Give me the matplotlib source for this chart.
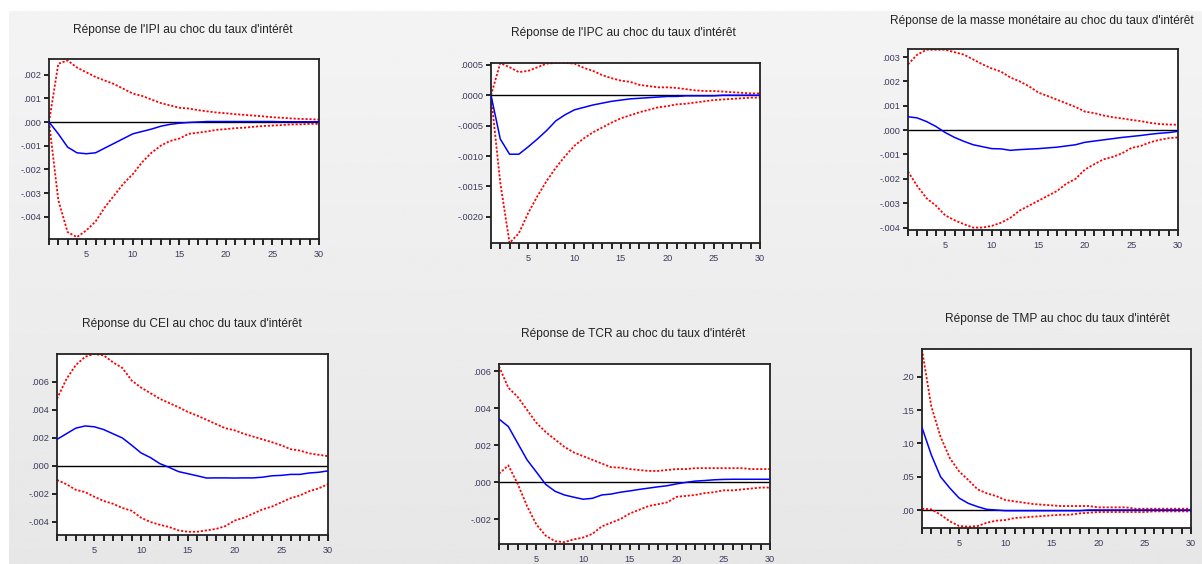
import numpy as np
import matplotlib
matplotlib.use('Agg')
import matplotlib.pyplot as plt
from matplotlib.ticker import FixedLocator, FixedFormatter, MultipleLocator

plt.rcParams['font.family'] = ['Liberation Sans', 'DejaVu Sans']

periods = list(range(1, 31))

# IPI
ipi_resp = [0, -0.0005, -0.00106, -0.0013, -0.00134, -0.0013, -0.0011, -0.0009, -0.0007, -0.0005,
            -0.0004, -0.0003, -0.00018, -0.0001, -0.00005, -0.00002, 0, 0.00002, 0.00002, 0.00002,
            0.00002, 0.00002, 0.00002, 0.00002, 0.00002, 0.00001, 0.00001, 0.00001, 0.00001, 0.00001]
ipi_up = [0, 0.00246, 0.0026, 0.0023, 0.0021, 0.0019, 0.00175, 0.0016, 0.0014, 0.0012,
          0.0011, 0.00095, 0.0008, 0.0007, 0.0006, 0.00057, 0.0005, 0.00045, 0.0004, 0.00037,
          0.00033, 0.0003, 0.00027, 0.00024, 0.0002, 0.00018, 0.00015, 0.00013, 0.00012, 0.0001]
ipi_low = [0, -0.0033, -0.00465, -0.00486, -0.00458, -0.0042, -0.0036, -0.0031, -0.0026, -0.0022,
           -0.0017, -0.0013, -0.001, -0.0008, -0.0007, -0.0005, -0.00045, -0.0004, -0.00033, -0.0003,
           -0.00026, -0.00024, -0.0002, -0.00017, -0.00015, -0.00013, -0.0001, -0.0001, -0.00008, -0.00008]

# IPC
ipc_resp = [0, -0.00072, -0.00097, -0.00097, -0.00085, -0.00072, -0.00058, -0.00042, -0.00032, -0.00024,
            -0.0002, -0.00016, -0.00013, -0.0001, -0.00008, -0.00006, -0.00005, -0.00004, -0.00003, -0.00002,
            -0.00002, -0.00001, -0.00001, -0.00001, -0.00001, 0, 0, 0, 0, 0]
ipc_up = [0, 0.00053, 0.00046, 0.00038, 0.0004, 0.00046, 0.00052, 0.00053, 0.00053, 0.00052,
          0.00045, 0.0004, 0.00033, 0.00028, 0.00024, 0.00022, 0.00017, 0.00015, 0.00013, 0.00013,
          0.00012, 0.0001, 0.00008, 0.00007, 0.00007, 0.00006, 0.00005, 0.00004, 0.00003, 0.00003]
ipc_low = [0, -0.00144, -0.00243, -0.00227, -0.00194, -0.00166, -0.00141, -0.00119, -0.001, -0.00083,
           -0.00071, -0.00061, -0.00053, -0.00045, -0.00038, -0.00033, -0.00028, -0.00024, -0.0002, -0.00018,
           -0.00015, -0.00014, -0.00012, -0.0001, -0.00008, -0.00007, -0.00006, -0.00005, -0.00004, -0.00004]

# masse monetaire
mm_resp = [0.00055, 0.0005, 0.00035, 0.00015, -0.0001, -0.0003, -0.00046, -0.0006, -0.00068, -0.00076,
           -0.00077, -0.00083, -0.0008, -0.00078, -0.00076, -0.00073, -0.0007, -0.00065, -0.0006, -0.0005,
           -0.00045, -0.0004, -0.00035, -0.0003, -0.00026, -0.00022, -0.00017, -0.00013, -0.0001, -0.00005]
mm_up = [0.0027, 0.0031, 0.0033, 0.0033, 0.0033, 0.0032, 0.0031, 0.0029, 0.0027, 0.00253,
         0.0024, 0.00216, 0.002, 0.0018, 0.00154, 0.0014, 0.00125, 0.0011, 0.00095, 0.00076,
         0.0007, 0.0006, 0.00053, 0.00048, 0.00042, 0.00037, 0.0003, 0.00025, 0.00023, 0.00022]
mm_low = [-0.0017, -0.0023, -0.0028, -0.0031, -0.0035, -0.0037, -0.00386, -0.004, -0.004, -0.00393,
          -0.0038, -0.0036, -0.0033, -0.0031, -0.0029, -0.0027, -0.0025, -0.0022, -0.002, -0.00162,
          -0.0014, -0.0012, -0.0011, -0.00095, -0.00073, -0.00065, -0.0005, -0.0004, -0.00033, -0.0003]

# CEI
cei_resp = [0.0019, 0.0023, 0.0027, 0.00286, 0.0028, 0.0026, 0.0023, 0.002, 0.00148, 0.00093,
            0.0006, 0.00017, -0.0001, -0.0004, -0.00055, -0.0007, -0.00086, -0.00085, -0.00085, -0.00086,
            -0.00085, -0.00085, -0.0008, -0.0007, -0.00067, -0.0006, -0.0006, -0.0005, -0.00045, -0.00035]
cei_up = [0.0048, 0.0062, 0.0072, 0.0078, 0.008, 0.0079, 0.0074, 0.007, 0.0061, 0.0056,
          0.0052, 0.0048, 0.0045, 0.0042, 0.00386, 0.0036, 0.0033, 0.003, 0.0027, 0.00255,
          0.0023, 0.0021, 0.0019, 0.0017, 0.00148, 0.0012, 0.0011, 0.0009, 0.0008, 0.0007]
cei_low = [-0.001, -0.0013, -0.0017, -0.00186, -0.0022, -0.0025, -0.0027, -0.003, -0.0032, -0.0037,
           -0.004, -0.0042, -0.00436, -0.0046, -0.0047, -0.0047, -0.0046, -0.0045, -0.0043, -0.0039,
           -0.0037, -0.0034, -0.0031, -0.0029, -0.0026, -0.0023, -0.0021, -0.0018, -0.0016, -0.0013]

# TCR
tcr_resp = [0.0034, 0.003, 0.0021, 0.0012, 0.00054, -0.00013, -0.0005, -0.0007, -0.00082, -0.00093,
            -0.00088, -0.0007, -0.00065, -0.00055, -0.00048, -0.0004, -0.00033, -0.00026, -0.0002, -0.0001,
            -0.00002, 0.00005, 0.00008, 0.00012, 0.00014, 0.00015, 0.00015, 0.00015, 0.00015, 0.00015]
tcr_up = [0.00625, 0.0051, 0.0046, 0.0039, 0.0032, 0.0027, 0.0023, 0.0019, 0.0016, 0.0014,
          0.0012, 0.001, 0.0008, 0.00078, 0.0007, 0.00065, 0.0006, 0.0006, 0.00065, 0.0007,
          0.0007, 0.00075, 0.00075, 0.00075, 0.00075, 0.00075, 0.00075, 0.0007, 0.0007, 0.0007]
tcr_low = [0.00045, 0.0009, -0.0001, -0.0013, -0.0023, -0.0029, -0.0032, -0.00325, -0.0031, -0.003,
           -0.0028, -0.0024, -0.0022, -0.002, -0.0017, -0.0015, -0.0013, -0.0012, -0.0011, -0.0008,
           -0.00075, -0.0007, -0.0006, -0.00055, -0.00045, -0.00045, -0.0004, -0.00035, -0.0003, -0.0003]

# TMP
tmp_resp = [0.124, 0.083, 0.05, 0.033, 0.018, 0.01, 0.005, 0.001, 0.0, -0.001,
            -0.001, -0.001, -0.001, -0.001, -0.001, -0.001, -0.001, -0.001, 0, 0,
            0, 0, 0, 0, 0, 0, 0, 0, 0, 0]
tmp_up = [0.241, 0.156, 0.11, 0.078, 0.058, 0.045, 0.031, 0.025, 0.021, 0.015,
          0.013, 0.011, 0.009, 0.008, 0.007, 0.006, 0.006, 0.006, 0.006, 0.004,
          0.004, 0.004, 0.004, 0.002, 0.002, 0.002, 0.002, 0.002, 0.002, 0.002]
tmp_low = [0.002, 0.001, -0.007, -0.017, -0.024, -0.025, -0.024, -0.019, -0.016, -0.015,
           -0.012, -0.011, -0.01, -0.009, -0.008, -0.007, -0.007, -0.005, -0.004, -0.003,
           -0.003, -0.003, -0.003, -0.003, -0.003, -0.002, -0.002, -0.002, -0.002, -0.002]

titles = ["Réponse de l'IPI au choc du taux d'intérêt",
          "Réponse de l'IPC au choc du taux d'intérêt",
          "Réponse de la masse monétaire au choc du taux d'intérêt",
          "Réponse du CEI au choc du taux d'intérêt",
          "Réponse de TCR au choc du taux d'intérêt",
          "Réponse de TMP au choc du taux d'intérêt"]

yticks = [[0.002, 0.001, 0.0, -0.001, -0.002, -0.003, -0.004],
          [0.0005, 0.0, -0.0005, -0.001, -0.0015, -0.002],
          [0.003, 0.002, 0.001, 0.0, -0.001, -0.002, -0.003, -0.004],
          [0.006, 0.004, 0.002, 0.0, -0.002, -0.004],
          [0.006, 0.004, 0.002, 0.0, -0.002],
          [0.20, 0.15, 0.10, 0.05, 0.00]]
ylabels = [['.002', '.001', '.000', '-.001', '-.002', '-.003', '-.004'],
           ['.0005', '.0000', '-.0005', '-.0010', '-.0015', '-.0020'],
           ['.003', '.002', '.001', '.000', '-.001', '-.002', '-.003', '-.004'],
           ['.006', '.004', '.002', '.000', '-.002', '-.004'],
           ['.006', '.004', '.002', '.000', '-.002'],
           ['.20', '.15', '.10', '.05', '.00']]
ylims = [(-0.00494, 0.00266), (-0.00243, 0.00053), (-0.0041, 0.00333),
         (-0.00493, 0.0080), (-0.00335, 0.00638), (-0.027, 0.242)]

series = [(ipi_resp, ipi_up, ipi_low), (ipc_resp, ipc_up, ipc_low), (mm_resp, mm_up, mm_low),
          (cei_resp, cei_up, cei_low), (tcr_resp, tcr_up, tcr_low), (tmp_resp, tmp_up, tmp_low)]

# pixel boxes (left, top, right, bottom) and title centres
W, H = 1202, 564
boxes = [(49, 59, 319, 239), (491, 63, 760, 243), (908, 49, 1178, 230),
         (57, 354, 328, 535), (499, 364, 770, 544), (922, 349, 1191, 528)]
title_pos = [(183, 30), (623, 33), (1042, 21), (192, 324), (633, 334), (1057, 319)]

fig = plt.figure(figsize=(W / 100, H / 100), dpi=100)
fig.patch.set_facecolor('white')

# grey gradient background
bg = fig.add_axes([9 / W, 0, 1 - 9 / W, 1 - 11 / H], zorder=-10)
grad = np.linspace(0.955, 0.905, 200).reshape(-1, 1)
bg.imshow(np.repeat(grad, 2, axis=1), cmap='gray', vmin=0, vmax=1, aspect='auto',
          extent=[0, 1, 0, 1])
bg.axis('off')

tick_col = '#3a3a5c'
for i in range(6):
    l, t, r, b = boxes[i]
    ax = fig.add_axes([l / W, 1 - b / H, (r - l) / W, (b - t) / H])
    resp, up, low = series[i]
    ax.axhline(0, color='black', lw=1.0, zorder=1)
    ax.plot(periods, up, color='#ff0000', lw=1.3, ls=(0, (1.2, 1.0)), zorder=2)
    ax.plot(periods, low, color='#ff0000', lw=1.3, ls=(0, (1.2, 1.0)), zorder=2)
    ax.plot(periods, resp, color='#0000ff', lw=1.1, zorder=3)
    ax.set_xlim(1, 30)
    ax.set_ylim(*ylims[i])
    ax.xaxis.set_major_locator(FixedLocator([5, 10, 15, 20, 25, 30]))
    ax.xaxis.set_major_formatter(FixedFormatter(['5', '10', '15', '20', '25', '30']))
    ax.xaxis.set_minor_locator(MultipleLocator(1))
    ax.yaxis.set_major_locator(FixedLocator(yticks[i]))
    ax.yaxis.set_major_formatter(FixedFormatter(ylabels[i]))
    ax.tick_params(axis='both', which='both', direction='out', width=1.2, colors='black',
                   labelcolor=tick_col, labelsize=6.6)
    ax.tick_params(axis='x', which='both', length=4, pad=4)
    ax.tick_params(axis='y', which='major', length=3.5, pad=2)
    for s in ax.spines.values():
        s.set_linewidth(1.3)
        s.set_color('#222222')
    ax.set_facecolor('white')
    tx, ty = title_pos[i]
    fig.text(tx / W, 1 - ty / H, titles[i], ha='center', va='center', fontsize=8.6, color='#222222')

fig.savefig('out.png', dpi=100)
